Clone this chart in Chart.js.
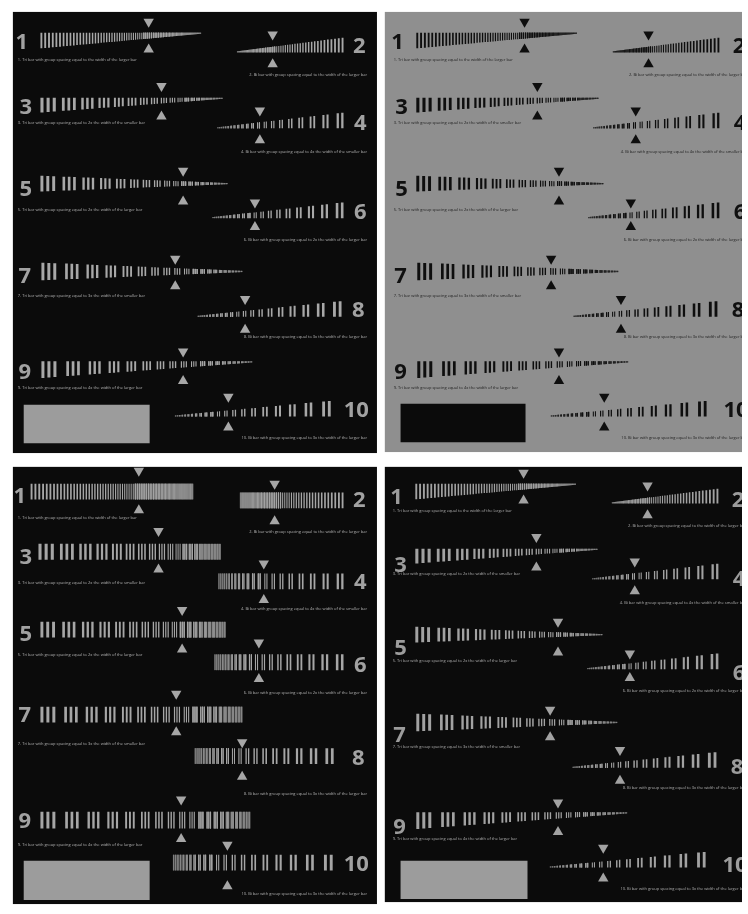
<!DOCTYPE html>
<html>
<head>
<meta charset="utf-8">
<script src="https://cdn.jsdelivr.net/npm/chart.js@4.4.1/dist/chart.umd.min.js"></script>
<style>
  html, body { margin: 0; padding: 0; background: #ffffff; }
  canvas { display: block; }
</style>
</head>
<body>
<canvas id="barTargetChart" width="748" height="914"></canvas>
<script>
// --- pattern data -----------------------------------------------------------
const ROW_LABELS = ["1", "2", "3", "4", "5", "6", "7", "8", "9", "10"];

const ROW_CAPTIONS = [
  "1. Tri bar with group spacing equal to the width of the larger bar",
  "2. Bi bar with group spacing equal to the width of the larger bar",
  "3. Tri bar with group spacing equal to 2x the width of the smaller bar",
  "4. Bi bar with group spacing equal to 4x the width of the smaller bar",
  "5. Tri bar with group spacing equal to 2x the width of the larger bar",
  "6. Bi bar with group spacing equal to 2x the width of the larger bar",
  "7. Tri bar with group spacing equal to 3x the width of the smaller bar",
  "8. Bi bar with group spacing equal to 3x the width of the larger bar",
  "9. Tri bar with group spacing equal to 4x the width of the larger bar",
  "10. Bi bar with group spacing equal to 3x the width of the larger bar",
];

const BARS_PER_GROUP = [3, 2, 3, 2, 3, 2, 3, 2, 3, 2];
const GROUP_GAP = [1, 1, 2, 3.5, 2.5, 3, 3, 3, 3.3, 3.5];
const ROW_STEP_SET = ["fine", "fine", "coarse", "coarse", "coarse", "coarse", "coarse", "coarse", "coarse", "coarse"];

// relative bar widths, largest group first
const SIZE_STEPS_FINE = [1.0, 0.95, 0.9, 0.85, 0.8, 0.76, 0.72, 0.68, 0.64, 0.6, 0.57, 0.54, 0.51, 0.48, 0.45, 0.42, 0.4, 0.37, 0.35, 0.33, 0.31, 0.29, 0.27, 0.25, 0.23, 0.21, 0.19];
const SIZE_STEPS_COARSE = [1.0, 0.9, 0.8, 0.72, 0.64, 0.57, 0.51, 0.46, 0.41, 0.37, 0.33, 0.29, 0.26, 0.23, 0.2, 0.18, 0.16, 0.14, 0.12, 0.11, 0.1];

// --- layout -------------------------------------------------------------------
const PAGE_WIDTH = 748;
const PAGE_HEIGHT = 914;
const TRIANGLE_RADIUS = 6;
const LABEL_SIZE = 22;
const CAPTION_SIZE = 4;
const CAPTION_LEFT = 12;
const CAPTION_RIGHT = 367;

const UPPER_ROWS = [
  { from: 35, to: 198, align: "top", anchor: 27, h: 16, triX: 145, downTip: 22, upTip: 38, numX: 16, numY: 36, capY: 55 },
  { from: 235, to: 343, align: "bottom", anchor: 47, h: 15, triX: 271, downTip: 35, upTip: 53, numX: 359, numY: 40, capY: 70 },
  { from: 35, to: 220, align: "top", anchor: 93, h: 15, triX: 158, downTip: 87, upTip: 106, numX: 20, numY: 101, capY: 118 },
  { from: 215, to: 343, align: "bottom", anchor: 124, h: 16, triX: 258, downTip: 112, upTip: 130, numX: 360, numY: 118, capY: 148 },
  { from: 35, to: 225, align: "center", anchor: 180, h: 16, triX: 180, downTip: 173, upTip: 192, numX: 20, numY: 185, capY: 207 },
  { from: 210, to: 343, align: "bottom", anchor: 215, h: 16, triX: 253, downTip: 205, upTip: 218, numX: 360, numY: 208, capY: 237 },
  { from: 36, to: 240, align: "center", anchor: 269, h: 18, triX: 172, downTip: 262, upTip: 278, numX: 19, numY: 273, capY: 294 },
  { from: 195, to: 341, align: "bottom", anchor: 315, h: 16, triX: 243, downTip: 303, upTip: 322, numX: 358, numY: 307, capY: 335 },
  { from: 36, to: 250, align: "top", anchor: 360, h: 17, triX: 180, downTip: 356, upTip: 374, numX: 19, numY: 370, capY: 387 },
  { from: 172, to: 330, align: "bottom", anchor: 416, h: 16, triX: 226, downTip: 402, upTip: 421, numX: 356, numY: 408, capY: 438 },
];

const LOWER_ROWS = [
  { from: 25, to: 190, align: "center", anchor: 492, h: 16, triX: 135, downTip: 477, upTip: 505, numX: 14, numY: 496, capY: 519 },
  { from: 238, to: 343, align: "center", anchor: 501, h: 16, triX: 273, downTip: 490, upTip: 516, numX: 359, numY: 500, capY: 533 },
  { from: 33, to: 218, align: "center", anchor: 553, h: 16, triX: 155, downTip: 538, upTip: 565, numX: 20, numY: 557, capY: 585 },
  { from: 216, to: 343, align: "center", anchor: 583, h: 16, triX: 262, downTip: 571, upTip: 596, numX: 360, numY: 583, capY: 611 },
  { from: 35, to: 223, align: "center", anchor: 632, h: 16, triX: 179, downTip: 618, upTip: 646, numX: 20, numY: 635, capY: 657 },
  { from: 212, to: 343, align: "center", anchor: 665, h: 16, triX: 257, downTip: 651, upTip: 676, numX: 360, numY: 667, capY: 696 },
  { from: 35, to: 240, align: "center", anchor: 718, h: 16, triX: 173, downTip: 703, upTip: 730, numX: 19, numY: 718, capY: 748 },
  { from: 192, to: 333, align: "center", anchor: 760, h: 16, triX: 240, downTip: 752, upTip: 775, numX: 358, numY: 761, capY: 798 },
  { from: 35, to: 248, align: "center", anchor: 825, h: 17, triX: 178, downTip: 810, upTip: 838, numX: 19, numY: 825, capY: 850 },
  { from: 170, to: 332, align: "center", anchor: 868, h: 16, triX: 225, downTip: 856, upTip: 886, numX: 356, numY: 868, capY: 900 },
];

const PANELS = [
  { box: [7, 6, 377, 453], fill: "#0b0b0b", ink: "#a8a8a8", label: "#a2a2a2", note: "#b4b4b4", block: "#9c9c9c",
    rect: [18, 404, 146, 443], shift: [0, 0], rightNudge: 0, taper: true, rows: UPPER_ROWS, labelDrop: null },
  { box: [385, 6, 748, 452], fill: "#8f8f8f", ink: "#0e0e0e", label: "#101010", note: "#1c1c1c", block: "#0b0b0b",
    rect: [401, 403, 528, 442], shift: [382, 0], rightNudge: 4, taper: true, rows: UPPER_ROWS, labelDrop: null },
  { box: [7, 467, 377, 910], fill: "#0b0b0b", ink: "#a6a6a6", label: "#a2a2a2", note: "#b4b4b4", block: "#9c9c9c",
    rect: [18, 866, 146, 906], shift: [0, 0], rightNudge: 0, taper: false, rows: LOWER_ROWS, labelDrop: null },
  { box: [385, 467, 748, 908], fill: "#0b0b0b", ink: "#a2a2a2", label: "#9c9c9c", note: "#b0b0b0", block: "#9c9c9c",
    rect: [401, 866, 530, 905], shift: [381, 457], rightNudge: 4, taper: true, rows: UPPER_ROWS, labelDrop: [4, 3, 7, 5, 8, 10, 8, 6, 4, 4] },
];

// --- building marks -----------------------------------------------------------
function buildRowBars(rowIndex, geom, taper, dx, dy) {
  const steps = ROW_STEP_SET[rowIndex] === "fine" ? SIZE_STEPS_FINE : SIZE_STEPS_COARSE;
  const perGroup = BARS_PER_GROUP[rowIndex];
  const gap = GROUP_GAP[rowIndex];
  const groupUnits = 2 * perGroup - 1 + gap;
  const totalUnits = steps.reduce((sum, s) => sum + s * groupUnits, 0) - steps[steps.length - 1] * gap;
  const span = geom.to - geom.from;
  const unit = span / totalUnits;
  const largeOnLeft = rowIndex % 2 === 0;
  const bars = [];
  let offset = 0;

  steps.forEach((step) => {
    const w = step * unit;
    for (let i = 0; i < perGroup; i++) {
      const t = (offset + w / 2) / span;
      const h = taper ? geom.h * (1 - 0.93 * t) : geom.h;
      const x = largeOnLeft ? geom.from + offset + w / 2 : geom.to - offset - w / 2;
      let top = geom.anchor - h / 2;
      if (geom.align === "top") top = geom.anchor;
      if (geom.align === "bottom") top = geom.anchor - h;
      bars.push({ x: x + dx, top: top + dy, bottom: top + h + dy, w });
      offset += i < perGroup - 1 ? 2 * w : w + gap * w;
    }
  });
  return bars;
}

function barWidthPixels(ctx) {
  const dataset = ctx.chart.data.datasets[ctx.datasetIndex];
  const w = dataset.barWidths[Math.floor(ctx.p0DataIndex / 3)];
  const xScale = ctx.chart.scales.x;
  return Math.abs(xScale.getPixelForValue(w) - xScale.getPixelForValue(0));
}

function rectHeightPixels(ctx) {
  const dataset = ctx.chart.data.datasets[ctx.datasetIndex];
  const yScale = ctx.chart.scales.y;
  return Math.abs(yScale.getPixelForValue(dataset.thickness) - yScale.getPixelForValue(0));
}

function makeDatasets() {
  const datasets = [];

  PANELS.forEach((panel) => {
    const [dx, dy] = panel.shift;
    const points = [];
    const widths = [];
    const downs = [];
    const ups = [];

    panel.rows.forEach((geom, r) => {
      buildRowBars(r, geom, panel.taper, dx, dy).forEach((bar) => {
        points.push({ x: bar.x, y: bar.top }, { x: bar.x, y: bar.bottom }, { x: bar.x, y: null });
        widths.push(bar.w);
      });
      downs.push({ x: geom.triX + dx, y: geom.downTip - TRIANGLE_RADIUS + dy });
      ups.push({ x: geom.triX + dx, y: geom.upTip + TRIANGLE_RADIUS + dy });
    });

    datasets.push({
      type: "line",
      data: points,
      barWidths: widths,
      borderColor: panel.ink,
      borderWidth: 1,
      borderCapStyle: "butt",
      pointRadius: 0,
      pointHitRadius: 0,
      spanGaps: false,
      segment: { borderWidth: barWidthPixels },
    });

    const [x0, y0, x1, y1] = panel.rect;
    datasets.push({
      type: "line",
      data: [{ x: x0, y: (y0 + y1) / 2 }, { x: x1, y: (y0 + y1) / 2 }],
      thickness: y1 - y0,
      borderColor: panel.block,
      borderWidth: 1,
      borderCapStyle: "butt",
      pointRadius: 0,
      pointHitRadius: 0,
      segment: { borderWidth: rectHeightPixels },
    });

    [[downs, 180], [ups, 0]].forEach(([data, rotation]) => {
      datasets.push({
        type: "line",
        data,
        showLine: false,
        pointStyle: "triangle",
        pointRadius: TRIANGLE_RADIUS,
        pointRotation: rotation,
        pointBackgroundColor: panel.ink,
        pointBorderWidth: 0,
        pointHoverRadius: TRIANGLE_RADIUS,
      });
    });
  });

  return datasets;
}

// --- plugins for panel backdrop and text ------------------------------------------
const panelBackdrop = {
  id: "panelBackdrop",
  beforeDatasetsDraw(chart) {
    const { ctx, scales: { x, y } } = chart;
    ctx.save();
    ctx.fillStyle = "#ffffff";
    ctx.fillRect(0, 0, chart.width, chart.height);
    PANELS.forEach((panel) => {
      const [x0, y0, x1, y1] = panel.box;
      const left = x.getPixelForValue(x0);
      const top = y.getPixelForValue(y0);
      ctx.fillStyle = panel.fill;
      ctx.fillRect(left, top, x.getPixelForValue(x1) - left, y.getPixelForValue(y1) - top);
    });
    ctx.restore();
  },
};

const panelText = {
  id: "panelText",
  afterDatasetsDraw(chart) {
    const { ctx, scales: { x, y } } = chart;
    PANELS.forEach((panel) => {
      const [dx, dy] = panel.shift;
      const [x0, y0, x1, y1] = panel.box;
      ctx.save();
      ctx.beginPath();
      ctx.rect(x.getPixelForValue(x0), y.getPixelForValue(y0),
        x.getPixelForValue(x1) - x.getPixelForValue(x0), y.getPixelForValue(y1) - y.getPixelForValue(y0));
      ctx.clip();

      panel.rows.forEach((geom, r) => {
        const onLeft = r % 2 === 0;
        const nudge = onLeft ? 0 : panel.rightNudge;
        const drop = panel.labelDrop ? panel.labelDrop[r] : 0;

        ctx.font = `bold ${LABEL_SIZE}px "Open Sans", "DejaVu Sans", sans-serif`;
        ctx.fillStyle = panel.label;
        ctx.textAlign = "center";
        ctx.textBaseline = "alphabetic";
        ctx.fillText(ROW_LABELS[r], x.getPixelForValue(geom.numX + dx + nudge),
          y.getPixelForValue(geom.numY + dy + drop) + LABEL_SIZE * 0.36);

        ctx.font = `${CAPTION_SIZE}px "Open Sans", sans-serif`;
        ctx.fillStyle = panel.note;
        ctx.textAlign = onLeft ? "left" : "right";
        ctx.textBaseline = "middle";
        ctx.fillText(ROW_CAPTIONS[r], x.getPixelForValue((onLeft ? CAPTION_LEFT : CAPTION_RIGHT) + dx + nudge),
          y.getPixelForValue(geom.capY + dy));
      });
      ctx.restore();
    });
  },
};

new Chart(document.getElementById("barTargetChart"), {
  type: "line",
  data: { datasets: makeDatasets() },
  options: {
    responsive: false,
    animation: false,
    events: [],
    layout: { padding: 0 },
    plugins: {
      legend: { display: false },
      tooltip: { enabled: false },
    },
    scales: {
      x: { type: "linear", min: 0, max: PAGE_WIDTH, display: false },
      y: { type: "linear", min: 0, max: PAGE_HEIGHT, reverse: true, display: false },
    },
  },
  plugins: [panelBackdrop, panelText],
});
</script>
</body>
</html>
